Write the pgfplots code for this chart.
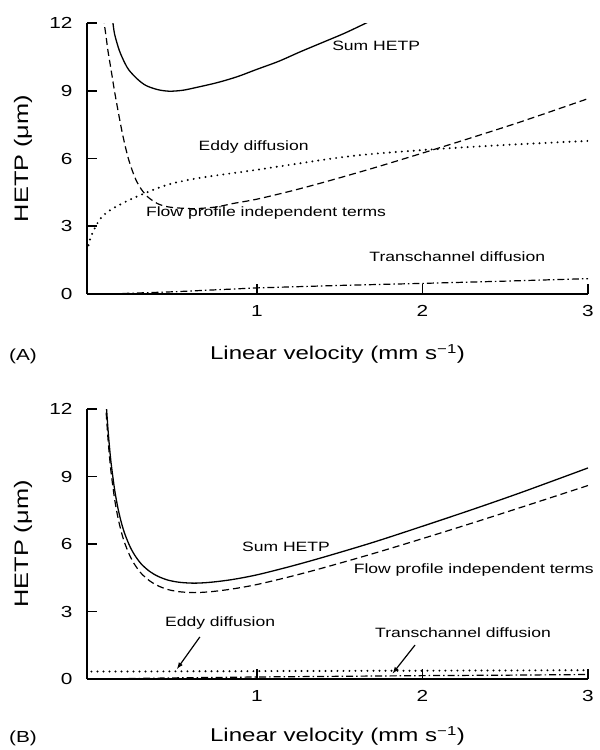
\documentclass[border=0pt]{standalone}
\usepackage{fontspec}
\setmainfont{Liberation Sans}[FakeStretch=1.3]
\usepackage{pgfplots}
\pgfplotsset{compat=1.18}
\begin{document}
\begin{tikzpicture}
\useasboundingbox (0,0) rectangle (600bp,-750bp);
\tikzset{lab/.style={font=\fontsize{13.5bp}{16bp}\selectfont, inner sep=0pt}}
\pgfplotsset{
  hetp/.style={
    scale only axis, width=501bp,
    xmin=-0.027, xmax=3, ymin=0, ymax=12,
    axis lines=left, axis line style={-, line width=2bp},
    xtick={1,2,3}, ytick={0,3,6,9,12},
    tick align=inside, major tick length=10bp,
    tick style={black, line width=1.7bp},
    tick label style={font=\fontsize{16bp}{19bp}\selectfont},
    /pgf/number format/assume math mode=true,
    yticklabel style={xshift=-11bp},
    xticklabel style={yshift=-8bp},
    xlabel={Linear velocity (mm s\textsuperscript{\char"2212 1})},
    ylabel={HETP (μm)},
    x label style={font=\fontsize{18.5bp}{22bp}\selectfont},
    y label style={font=\fontsize{19.5bp}{22bp}\selectfont,
      at={(axis description cs:-0.1277,0.5)}, anchor=center},
    clip mode=individual,
  },
  sumline/.style={black, line width=1.3bp, smooth},
  flowline/.style={black, line width=1.2bp, dash pattern=on 7bp off 4bp, smooth},
  eddyline/.style={black, line width=2.2bp, dash pattern=on 0bp off 6bp, line cap=round, smooth},
  transline/.style={black, line width=1.2bp, dash pattern=on 7bp off 3bp on 1.5bp off 3bp},
}
% ---------------- Panel A ----------------
\begin{axis}[hetp, height=271bp, at={(87bp,-294bp)}, anchor=south west,
  x label style={at={(axis description cs:0.5,-0.2435)}, anchor=base}]
\addplot[sumline] coordinates {
(0.125,12.3) (0.128,12.1) (0.14,11.5) (0.168,10.79) (0.2,10.25) (0.228,9.9) (0.28,9.5)
(0.33,9.23) (0.4,9.05) (0.47,8.98) (0.55,9.02) (0.63,9.14) (0.76,9.36) (0.88,9.62)
(1.0,9.95) (1.13,10.3) (1.26,10.72) (1.4,11.15) (1.53,11.55) (1.66,12.0) (1.68,12.07)};
\addplot[flowline] coordinates {
(0.072,12.3) (0.077,12.0) (0.09,11.3) (0.1,10.75) (0.118,9.95) (0.14,8.95) (0.168,7.82)
(0.19,7.0) (0.219,6.1) (0.245,5.5) (0.269,5.05) (0.3,4.65) (0.34,4.3) (0.4,4.0)
(0.47,3.85) (0.61,3.78) (0.75,3.85) (0.85,4.0) (1.0,4.2) (1.2,4.55) (1.4,4.94)
(1.7,5.57) (2.0,6.24) (2.3,6.93) (2.6,7.64) (3.0,8.65)};
\addplot[eddyline] coordinates {
(-0.027,1.9) (0.0,2.6) (0.05,3.3) (0.1,3.65) (0.15,3.87) (0.26,4.27) (0.46,4.84)
(0.67,5.16) (1.0,5.5) (1.56,6.1) (2.05,6.4) (2.5,6.6) (3.0,6.78)};
\addplot[transline] coordinates {
(0.1,0.0) (0.5,0.1) (1.0,0.27) (1.5,0.38) (2.0,0.47) (2.5,0.57) (3.0,0.68)};
\node[lab] at (axis cs:1.72,10.98) {Sum HETP};
\node[lab] at (axis cs:0.98,6.49) {Eddy diffusion};
\node[lab] at (axis cs:1.055,3.6) {Flow profile independent terms};
\node[lab] at (axis cs:2.21,1.64) {Transchannel diffusion};
\end{axis}
% ---------------- Panel B ----------------
\begin{axis}[hetp, height=270bp, at={(87bp,-679bp)}, anchor=south west,
  x label style={at={(axis description cs:0.5,-0.233)}, anchor=base}]
\addplot[sumline] coordinates {
(0.085,12.75) (0.09,12.13) (0.1,11.08) (0.11,10.22) (0.12,9.51) (0.14,8.41) (0.16,7.59)
(0.18,6.97) (0.2,6.48) (0.23,5.93) (0.26,5.52) (0.3,5.12) (0.35,4.79) (0.4,4.57)
(0.46,4.40) (0.53,4.30) (0.62,4.26) (0.72,4.30) (0.85,4.42) (1.0,4.63) (1.2,5.0)
(1.4,5.41) (1.7,6.07) (2.0,6.79) (2.3,7.53) (2.6,8.3) (3.0,9.38)};
\addplot[flowline] coordinates {
(0.085,12.33) (0.09,11.71) (0.1,10.66) (0.11,9.80) (0.12,9.09) (0.14,7.99) (0.16,7.17)
(0.18,6.55) (0.2,6.06) (0.23,5.51) (0.26,5.10) (0.3,4.70) (0.35,4.37) (0.4,4.15)
(0.46,3.98) (0.53,3.88) (0.62,3.84) (0.72,3.88) (0.85,4.00) (1.0,4.20) (1.2,4.55)
(1.4,4.94) (1.7,5.57) (2.0,6.24) (2.3,6.93) (2.6,7.64) (3.0,8.60)};
\addplot[eddyline] coordinates {
(0.0,0.33) (0.5,0.34) (1.0,0.35) (1.5,0.36) (2.0,0.37) (2.5,0.38) (3.0,0.39)};
\addplot[transline] coordinates {
(0.05,0.0) (0.5,0.05) (1.0,0.09) (1.5,0.12) (2.0,0.15) (2.5,0.17) (3.0,0.2)};
\node[lab] at (axis cs:1.175,5.87) {Sum HETP};
\node[lab] at (axis cs:2.31,4.84) {Flow profile independent terms};
\node[lab] at (axis cs:0.777,2.49) {Eddy diffusion};
\draw[-latex, line width=1.2bp] (axis cs:0.655,1.87) -- (axis cs:0.517,0.45);
\node[lab] at (axis cs:2.245,2.04) {Transchannel diffusion};
\draw[-latex, line width=1.2bp] (axis cs:1.955,1.51) -- (axis cs:1.82,0.25);
\end{axis}
\node[font=\fontsize{16bp}{20bp}\selectfont, anchor=base] at (23bp,-360bp) {(A)};
\node[font=\fontsize{16bp}{20bp}\selectfont, anchor=base] at (23bp,-742bp) {(B)};
\end{tikzpicture}
\end{document}
